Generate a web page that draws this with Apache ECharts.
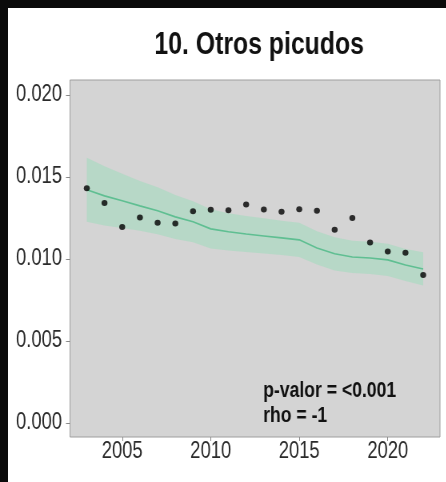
<!DOCTYPE html>
<html>
<head>
<meta charset="utf-8">
<script src="https://cdn.jsdelivr.net/npm/echarts@6/dist/echarts.min.js"></script>
<style>
html,body{margin:0;padding:0;background:#fff;overflow:hidden;}
#wrap{width:446px;height:482px;overflow:hidden;position:relative;}
#chart{width:558px;height:482px;transform:scaleX(0.8);transform-origin:0 0;}
</style>
</head>
<body>
<div id="wrap"><div id="chart"></div></div>
<script>
var years = [2003,2004,2005,2006,2007,2008,2009,2010,2011,2012,2013,2014,2015,2016,2017,2018,2019,2020,2021,2022];
var observed = [0.01431,0.01340,0.01195,0.01252,0.01220,0.01215,0.01291,0.01299,0.01297,0.01331,0.01301,0.01288,0.01303,0.01294,0.01177,0.01250,0.01100,0.01045,0.01037,0.00902];
var fitted = [0.01421,0.01384,0.01354,0.01323,0.01293,0.01256,0.01226,0.01183,0.01165,0.01152,0.01140,0.01128,0.01116,0.01067,0.01031,0.01012,0.01006,0.00994,0.00963,0.00939];
var upper = [0.01616,0.01564,0.01519,0.01475,0.01436,0.01390,0.01351,0.01302,0.01278,0.01262,0.01247,0.01232,0.01220,0.01168,0.01132,0.01110,0.01104,0.01092,0.01061,0.01040];
var lower = [0.01226,0.01204,0.01189,0.01171,0.01150,0.01122,0.01101,0.01064,0.01052,0.01042,0.01033,0.01024,0.01012,0.00966,0.00930,0.00914,0.00908,0.00896,0.00865,0.00838];
var xTicks = [2005,2010,2015,2020];
var yTicks = [0.000,0.005,0.010,0.015,0.020];
var titleText = '10. Otros picudos';
var annotText = 'p-valor = <0.001\nrho = -1';

var FONT = '"Liberation Sans", Arial, Helvetica, sans-serif';

var chart = echarts.init(document.getElementById('chart'), null, {renderer:'canvas', width:558, height:482});
var bandData = years.map(function(y,i){return [y, lower[i], upper[i]];});
var fitData = years.map(function(y,i){return [y, fitted[i]];});
var obsData = years.map(function(y,i){return [y, observed[i]];});

chart.setOption({
  backgroundColor:'#ffffff',
  animation:false,
  title:[{
    text:titleText,
    left:319, top:25, textAlign:'center',
    textStyle:{fontFamily:FONT, fontSize:31, fontWeight:'bold', color:'#111'}
  },{
    text:annotText,
    left:329, top:378, padding:0,
    textStyle:{fontFamily:FONT, fontSize:22, fontWeight:'bold', color:'#111', lineHeight:25}
  }],
  graphic:[
    {type:'rect', shape:{x:0,y:0,width:10,height:482}, style:{fill:'#0a0a0a'}, silent:true},
    {type:'rect', shape:{x:0,y:0,width:558,height:8}, style:{fill:'#0a0a0a'}, silent:true}
  ],
  grid:{left:87.5, top:80, width:462.5, height:357, show:true, backgroundColor:'#d4d4d4', borderColor:'#9e9e9e', borderWidth:1, containLabel:false},
  xAxis:{
    type:'value', min:2002.05, max:2022.95,
    axisLine:{show:false, onZero:false},
    splitLine:{show:false},
    axisTick:{show:true, length:4, lineStyle:{color:'#888'}, customValues:xTicks},
    axisLabel:{customValues:xTicks, margin:3, fontFamily:FONT, fontSize:23, color:'#2a2a2a', formatter:function(v){return String(v);}}
  },
  yAxis:{
    type:'value', min:-0.00085, max:0.0209,
    axisLine:{show:false, onZero:false},
    splitLine:{show:false},
    axisTick:{show:true, length:5, lineStyle:{color:'#888'}, customValues:yTicks},
    axisLabel:{customValues:yTicks, margin:10, fontFamily:FONT, fontSize:23, color:'#2a2a2a', formatter:function(v){return v.toFixed(3);}}
  },
  series:[
    {type:'custom', data:bandData, silent:true, z:1,
      encode:{x:0, y:[1,2]},
      renderItem:function(params, api){
        if (params.dataIndex !== 0) return null;
        var pts = [];
        for (var i=0;i<bandData.length;i++) pts.push(api.coord([bandData[i][0], bandData[i][2]]));
        for (var j=bandData.length-1;j>=0;j--) pts.push(api.coord([bandData[j][0], bandData[j][1]]));
        return {type:'polygon', shape:{points:pts}, style:{fill:'rgba(130,225,175,0.34)'}};
      }
    },
    {type:'line', data:fitData, symbol:'none', z:2, lineStyle:{color:'#5fbf92', width:1.6}, silent:true},
    {type:'scatter', data:obsData, symbol:'circle', symbolSize:[7.5,6], z:3, itemStyle:{color:'#000'}, silent:true}
  ]
});
</script>
</body>
</html>
